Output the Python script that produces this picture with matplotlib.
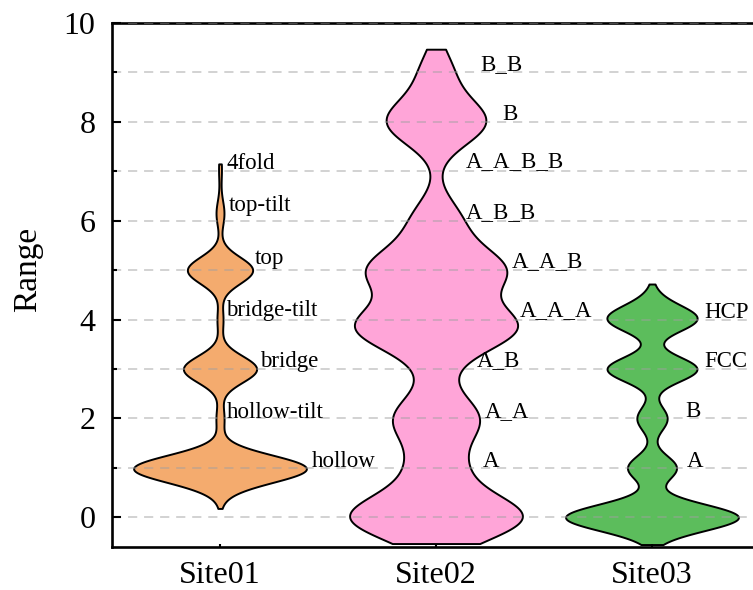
import numpy as np
import matplotlib

matplotlib.use("Agg")
import matplotlib.pyplot as plt
from matplotlib import cbook
from matplotlib.ticker import MultipleLocator

plt.rcParams["font.family"] = ["Liberation Serif", "DejaVu Serif"]

SITES = ["Site01", "Site02", "Site03"]

# sampled "Range" values and how many times each one turned up
site01_values = [0.18, 0.75, 1.0, 2.0, 3.0, 4.0, 5.0, 6.15, 7.0, 7.15]
site01_counts = [1, 16, 164, 8, 74, 6, 66, 8, 2, 1]
site02_values = [-0.53, 0.0, 1.0, 2.0, 3.0, 3.85, 5.0, 6.0, 8.0, 9.0, 9.47]
site02_counts = [1, 170, 46, 82, 18, 156, 132, 46, 98, 30, 1]
site03_values = [-0.55, -0.15, 0.0, 0.15, 1.0, 2.0, 3.0, 4.0, 4.3, 4.72]
site03_counts = [1, 40, 110, 40, 50, 31, 92, 84, 16, 1]

# kde bandwidth per site
bandwidths = [0.27, 0.46, 0.25]

site01_labels = ["4fold", "top-tilt", "top", "bridge-tilt", "bridge", "hollow-tilt", "hollow"]
site02_labels = ["B_B", "B", "A_A_B_B", "A_B_B", "A_A_B", "A_A_A", "A_B", "A_A", "A"]
site03_labels = ["HCP", "FCC", "B", "A"]

# where the labels sit (x offset from the violin centre, y baseline)
site01_label_dx = [0.03, 0.04, 0.16, 0.03, 0.185, 0.03, 0.425]
site01_label_y = [7.05, 6.2, 5.12, 4.08, 3.05, 2.0, 1.02]
site02_label_dx = [0.205, 0.305, 0.14, 0.14, 0.35, 0.39, 0.19, 0.225, 0.215]
site02_label_y = [9.05, 8.04, 7.08, 6.05, 5.06, 4.08, 3.07, 2.03, 1.01]
site03_label_dx = [0.24, 0.24, 0.155, 0.16]
site03_label_y = [4.03, 3.04, 2.03, 1.01]

COLORS = ["#F4AB6E", "#FFA5D8", "#5CBD5C"]


def fixed_bw_kde(bw):
    def method(x, coords):
        d = (coords[:, None] - x[None, :]) / bw
        return np.exp(-0.5 * d ** 2).sum(axis=1) / (len(x) * bw * np.sqrt(2 * np.pi))
    return method


datasets = [
    (site01_values, site01_counts),
    (site02_values, site02_counts),
    (site03_values, site03_counts),
]
stats = []
for (vals, cnts), bw in zip(datasets, bandwidths):
    data = np.repeat(np.asarray(vals, float), cnts)
    stats += cbook.violin_stats(data, fixed_bw_kde(bw), points=400)

fig = plt.figure(figsize=(7.53, 5.90), dpi=100)
ax = fig.add_axes([112 / 753, 43 / 590, 648 / 753, 524 / 590])

parts = ax.violin(stats, positions=[0, 1, 2], widths=0.8,
                  showmeans=False, showextrema=False, showmedians=False)
for body, c in zip(parts["bodies"], COLORS):
    body.set_facecolor(c)
    body.set_edgecolor("black")
    body.set_linewidth(1.4)
    body.set_alpha(1)
    body.set_zorder(1)

labels = [
    (site01_labels, site01_label_dx, site01_label_y),
    (site02_labels, site02_label_dx, site02_label_y),
    (site03_labels, site03_label_dx, site03_label_y),
]
for i, (names, dxs, ys) in enumerate(labels):
    for name, dx, y in zip(names, dxs, ys):
        ax.text(i + dx, y, name, fontsize=16.5, ha="left", va="baseline")

ax.set_xlim(-0.5, 2.5)
ax.set_ylim(-0.6, 10)
ax.set_xticks([0, 1, 2], SITES)
ax.yaxis.set_major_locator(MultipleLocator(2))
ax.yaxis.set_minor_locator(MultipleLocator(1))
ax.set_ylabel("Range", fontsize=24)
ax.yaxis.set_label_coords(-0.107, 0.53)

ax.tick_params(axis="y", which="major", direction="in", length=6.5, width=1.5,
               labelsize=23, pad=12)
ax.tick_params(axis="y", which="minor", direction="in", length=3.6, width=1.5)
ax.tick_params(axis="x", direction="in", length=2.5, width=1.5, labelsize=23, pad=10)

ax.set_axisbelow(False)
ax.yaxis.grid(True, which="both", color="#a0a0a0", alpha=0.6,
              linewidth=1.1, linestyle=(0, (6, 4.5)))
for s in ax.spines.values():
    s.set_linewidth(1.9)

fig.savefig("out.png", dpi=100)
